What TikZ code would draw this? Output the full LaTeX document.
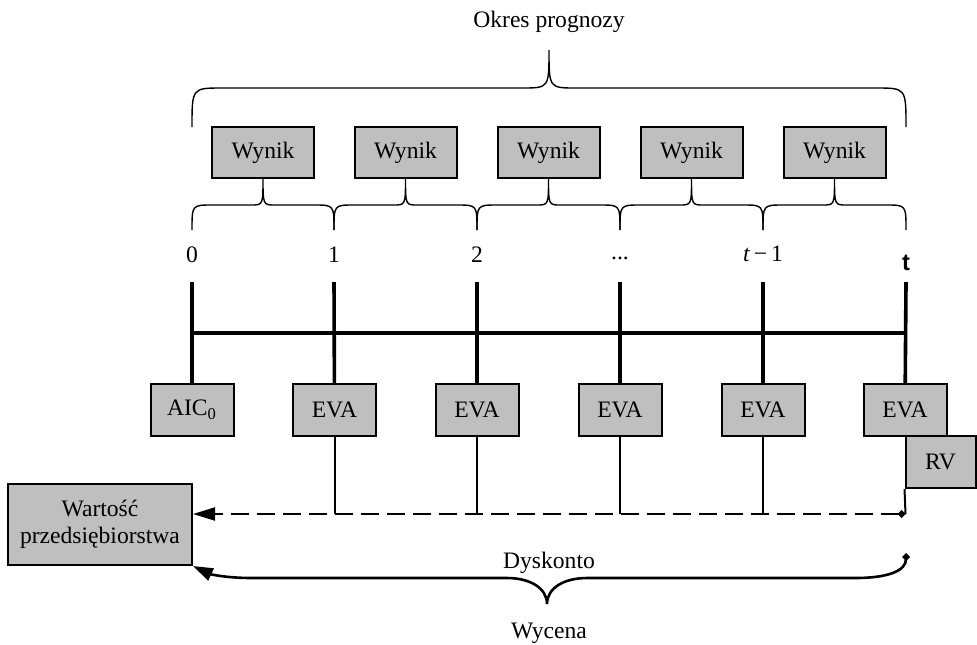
\documentclass[tikz,border=0pt]{standalone}
\usepackage{fontspec}
\setmainfont{Liberation Serif}
\setsansfont{Liberation Sans}
\usepackage{tikz}
\usetikzlibrary{positioning,arrows.meta}
\tikzset{
  box/.style={rectangle, draw=black, fill=black!25, line width=1pt,
    align=center, inner sep=0pt, minimum width=41.5pt, minimum height=26pt},
  res/.style={box, minimum width=51pt, minimum height=25.5pt},
  val/.style={box, minimum width=92pt, minimum height=40.5pt},
  lbl/.style={inner sep=0pt},
  tick/.style={line width=1.8pt},
  link/.style={line width=1pt},
  brc/.style={line width=0.7pt},
  disc/.style={line width=1pt, dash pattern=on 9pt off 4pt,
    {Diamond[length=4pt,width=4pt]}-{Triangle[length=11pt,width=6.5pt]}},
  wyc/.style={line width=1.3pt, {Diamond[length=4pt,width=4pt]}-{Triangle[length=10pt,width=6.5pt]}},
}
% brace: left x, tip x, right x, end y, flat y, tip y, corner width, tip width
\newcommand{\hbrc}[8]{%
  \draw[brc] (#1,#4) .. controls (#1,#5) and (#1,#5) .. (#1+#7,#5) -- (#2-#8,#5)
    .. controls (#2,#5) and (#2,#5) .. (#2,#6)
    .. controls (#2,#5) and (#2,#5) .. (#2+#8,#5) -- (#3-#7,#5)
    .. controls (#3,#5) and (#3,#5) .. (#3,#4);}

\begin{document}
\begin{tikzpicture}[x=0.5pt, y=-0.5pt, font=\fontsize{11.8}{13.6}\selectfont]
\useasboundingbox (0,0) rectangle (977,644);
% ---- forecast period ----
\node[lbl] (okres) at (549,22) {Okres prognozy};
\hbrc{192}{549}{906}{127}{88}{50}{30}{27}
\node[res] (w_1) at (263,152.5) {Wynik};
\node[res] (w_2) at (405.5,152.5) {Wynik};
\node[res] (w_3) at (548.5,152.5) {Wynik};
\node[res] (w_4) at (691.5,152.5) {Wynik};
\node[res] (w_5) at (834.5,152.5) {Wynik};
\hbrc{192}{263}{334}{230}{205}{178}{20}{12}
\hbrc{334}{405.5}{477}{230}{205}{178}{20}{12}
\hbrc{477}{548.5}{620}{230}{205}{178}{20}{12}
\hbrc{620}{691.5}{763}{230}{205}{178}{20}{12}
\hbrc{763}{834.5}{906}{230}{205}{178}{20}{12}
% ---- time axis ----
\node[lbl] (l_0) at (192,255) {0};
\node[lbl] (l_1) at (334,255) {1};
\node[lbl] (l_2) at (477,255) {2};
\node[lbl] (l_3) at (620,258) {...};
\node[lbl] (l_4) at (763,254) {\textit{t}\,−\,1};
\node[lbl] (l_5) at (906,263) {\sffamily\bfseries t};
\coordinate (t_0) at (192,282);
\coordinate (t_1) at (334,282);
\coordinate (t_2) at (477,282);
\coordinate (t_3) at (620,282);
\coordinate (t_4) at (763,282);
\coordinate (t_5) at (906,282);
\draw[tick] (192,333) -- (906,333);
% ---- cash flows ----
\node[box] (a_0) at (192,410) {AIC\textsubscript{0}};
\node[box] (e_1) at (334.5,410) {EVA};
\node[box] (e_2) at (477,410) {EVA};
\node[box] (e_3) at (620,410) {EVA};
\node[box] (e_4) at (763,410) {EVA};
\node[box] (e_5) at (905,410) {EVA};
\node[box, minimum width=35pt] (r_v) at (940.5,462) {RV};
\draw[tick] (t_0) -- (a_0); \draw[tick] (t_1) -- (e_1); \draw[tick] (t_2) -- (e_2);
\draw[tick] (t_3) -- (e_3); \draw[tick] (t_4) -- (e_4); \draw[tick] (t_5) -- (e_5);
% ---- discounting ----
\node[val] (w_v) at (100,524.5) {Wartość\\przedsiębiorstwa};
\coordinate (d_1) at (905.5,514);
\coordinate (d_2) at (906,553);
\draw[link] (e_1.south) -- (e_1.south |- d_1);
\draw[link] (e_2.south) -- (e_2.south |- d_1);
\draw[link] (e_3.south) -- (e_3.south |- d_1);
\draw[link] (e_4.south) -- (e_4.south |- d_1);
\draw[link] (r_v.south west) -- (d_1);
\draw[disc] (d_1) -- (d_1 -| w_v.east);
\node[lbl] (dysk) at (549,563) {Dyskonto};
\draw[wyc] (d_2) .. controls (906,570) and (890,578) .. (855,578) -- (587,578)
  .. controls (564,578) and (547,588) .. (547,604)
  .. controls (547,588) and (530,578) .. (507,578) -- (252,578)
  .. controls (225,578) and (210,574) .. (w_v.south east);
\node[lbl] (wyc) at (549,633) {Wycena};
\end{tikzpicture}
\end{document}
